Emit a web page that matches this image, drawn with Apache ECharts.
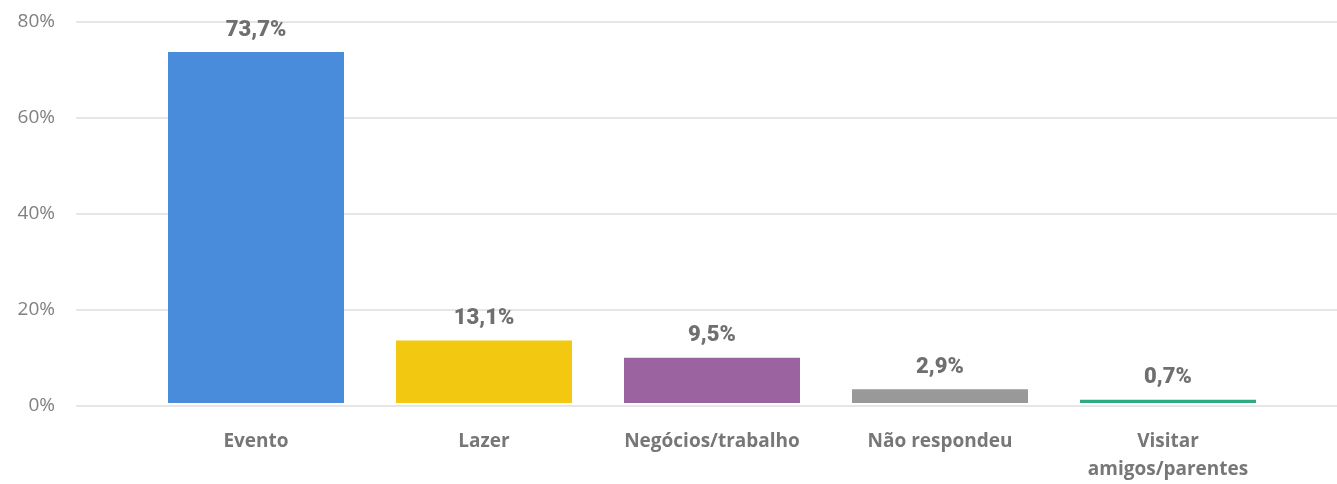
<!DOCTYPE html>
<html>
<head>
<meta charset="utf-8">
<script src="https://cdn.jsdelivr.net/npm/echarts@6/dist/echarts.min.js"></script>
<style>
  html, body { margin: 0; padding: 0; background: #fff; }
  #chart { width: 1337px; height: 484px; }
</style>
</head>
<body>
<div id="chart"></div>
<script>
// dados
var categorias = ['Evento', 'Lazer', 'Negócios/trabalho', 'Não respondeu', 'Visitar\namigos/parentes'];
var valores = [73.7, 13.1, 9.5, 2.9, 0.7];
var cores = ['#4A8CDC', '#F2C811', '#9B64A0', '#999999', '#2EAA7E'];
var yTicks = [0, 20, 40, 60, 80];

var myChart = echarts.init(document.getElementById('chart'));
window.onresize = myChart.resize;

var option = {
    animation: false,
    grid: [
        // grade de fundo (linhas e rótulos do eixo y)
        { left: 76, right: 0, top: 22, bottom: 78 },
        // barras
        { left: 142, right: 55, top: 22, bottom: 78 }
    ],
    xAxis: [
        { gridIndex: 0, type: 'category', data: [''], show: false },
        {
            gridIndex: 1,
            type: 'category',
            data: categorias,
            axisLine: { show: false },
            axisTick: { show: false },
            axisLabel: {
                interval: 0,
                margin: 25,
                color: '#777777',
                fontFamily: 'Open Sans',
                fontWeight: 'bold',
                fontSize: 19,
                lineHeight: 28
            }
        }
    ],
    yAxis: [
        {
            gridIndex: 0,
            type: 'value',
            min: yTicks[0],
            max: yTicks[yTicks.length - 1],
            interval: 20,
            axisLine: { show: false },
            axisTick: { show: false },
            splitLine: { lineStyle: { color: '#e6e6e6', width: 2 } },
            axisLabel: {
                formatter: '{value}%',
                margin: 21,
                color: '#808080',
                fontFamily: 'Open Sans',
                fontSize: 19
            }
        },
        {
            gridIndex: 1,
            type: 'value',
            min: yTicks[0],
            max: yTicks[yTicks.length - 1],
            interval: 20,
            show: false
        }
    ],
    series: [
        {
            type: 'bar',
            xAxisIndex: 1,
            yAxisIndex: 1,
            barWidth: 176,
            data: valores.map(function (v, i) {
                return { value: v, itemStyle: { color: cores[i] } };
            }),
            label: {
                show: true,
                position: 'top',
                distance: 11,
                color: '#6f6f6f',
                fontFamily: 'Roboto',
                fontWeight: 900,
                fontSize: 22,
                formatter: function (p) {
                    return p.value.toFixed(1).replace('.', ',') + '%';
                }
            }
        }
    ]
};

myChart.setOption(option);
</script>
</body>
</html>
